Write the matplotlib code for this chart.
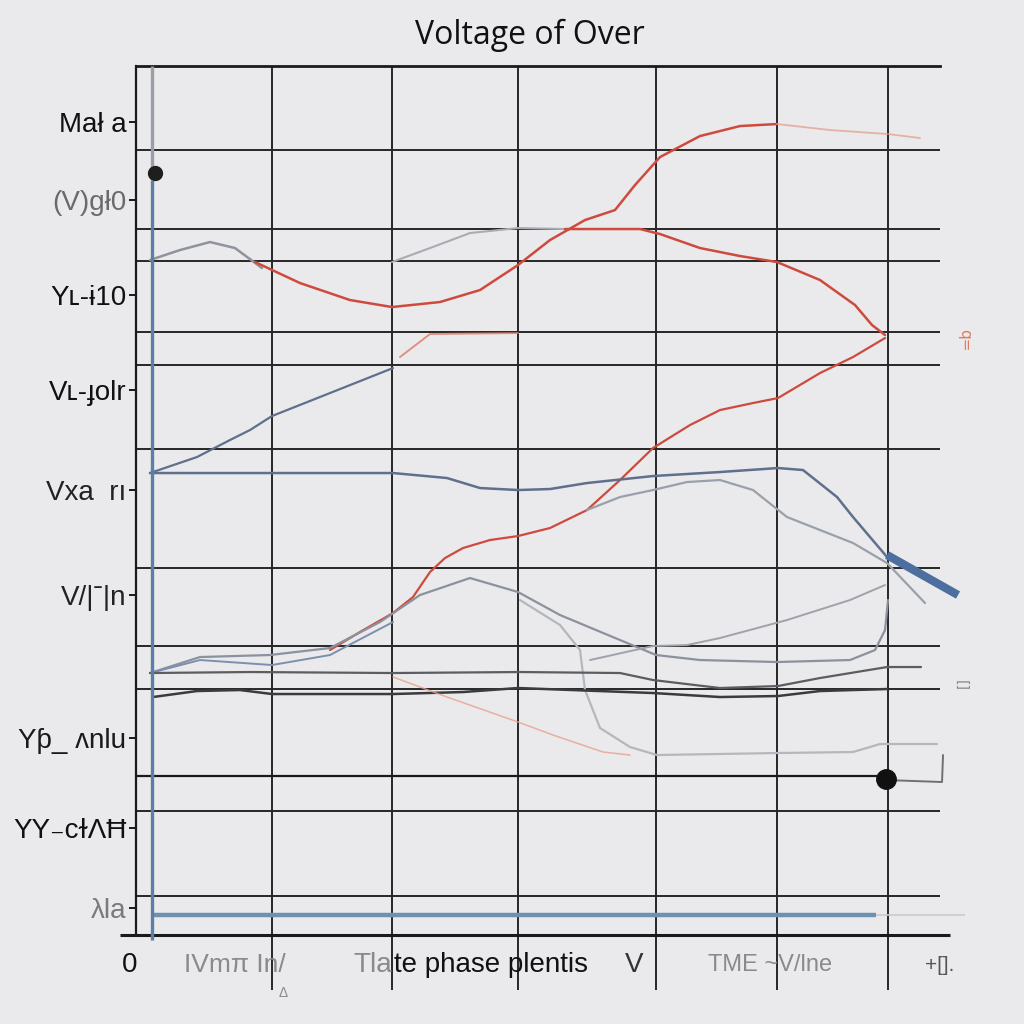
import matplotlib.pyplot as plt

# chart units: time along x, voltage along y
bg = '#eaeaec'
grid_c = '#262626'
red = '#cf4a3e'
gray = '#8e939c'
slate = '#5f6f8c'

# grid
grid_x = [1.36, 2.56, 3.82, 5.20, 6.41, 7.52]
grid_y = [7.85, 7.06, 6.74, 6.03, 5.70, 4.86, 3.67, 2.89, 2.46, 1.24, 0.39]

# y tick labels
ytick_v = [8.13, 7.35, 6.40, 5.45, 4.45, 3.40, 1.97, 1.07, 0.27]
ytick_lbl = ['Mał a', '(V)gł0', 'Yʟ-ɨ10', 'Vʟ-ɟolr', 'Vxa  rı', 'V/|ˉ|n',
             'Yƥ_ ʌnlu', 'YY₋cɫΛĦ', 'λla']
ytick_col = ['#111111', '#6a6a6a', '#111111', '#111111', '#222222', '#222222',
             '#1a1a1a', '#111111', '#7a7a7a']

# curves
a_gray_t = [0.14, 0.44, 0.74, 0.99, 1.26]
a_gray_v = [6.75, 6.85, 6.93, 6.87, 6.67]
a_red_t = [1.19, 1.64, 2.14, 2.56, 3.04, 3.44, 3.82, 4.14, 4.49, 4.79, 4.99, 5.24, 5.64, 6.04, 6.41]
a_red_v = [6.73, 6.52, 6.35, 6.28, 6.33, 6.45, 6.70, 6.95, 7.15, 7.25, 7.50, 7.78, 7.99, 8.09, 8.11]
a_tail_t = [6.41, 6.94, 7.52, 7.84]
a_tail_v = [8.11, 8.05, 8.01, 7.97]

b_gray_t = [2.56, 2.94, 3.34, 3.82, 4.29]
b_gray_v = [6.73, 6.87, 7.02, 7.07, 7.06]
b_red_t = [4.29, 5.04, 5.24, 5.64, 6.04, 6.41, 6.84, 7.19, 7.36, 7.49]
b_red_v = [7.06, 7.06, 7.01, 6.87, 6.79, 6.73, 6.55, 6.30, 6.10, 6.00]

short_t = [2.64, 2.94, 3.82]
short_v = [5.78, 6.01, 6.02]

c_t = [1.94, 2.24, 2.57, 2.77, 2.94, 3.09, 3.27, 3.54, 3.82, 4.14, 4.51, 4.84, 5.17,
       5.54, 5.84, 6.17, 6.42, 6.84, 7.17, 7.49]
c_v = [2.85, 3.03, 3.22, 3.38, 3.63, 3.77, 3.87, 3.95, 3.99, 4.07, 4.25, 4.55, 4.87,
       5.10, 5.25, 5.32, 5.37, 5.62, 5.78, 5.97]

d_t = [0.14, 0.61, 0.94, 1.14, 1.36, 1.94, 2.57]
d_v = [4.62, 4.78, 4.95, 5.05, 5.19, 5.42, 5.67]

e_t = [0.14, 1.64, 2.57, 3.11, 3.44, 3.82, 4.14, 4.51, 5.17, 5.84, 6.42, 6.67, 7.01, 7.17, 7.51]
e_v = [4.62, 4.62, 4.62, 4.57, 4.47, 4.45, 4.46, 4.52, 4.59, 4.63, 4.67, 4.65, 4.38, 4.18, 3.78]
bar_t = [7.51, 8.22]
bar_v = [3.80, 3.40]

m_t = [4.51, 4.84, 5.17, 5.51, 5.84, 6.17, 6.51, 7.17, 7.51, 7.89]
m_v = [4.25, 4.38, 4.45, 4.53, 4.55, 4.45, 4.18, 3.92, 3.72, 3.32]

f_t = [0.14, 0.64, 1.34, 1.94, 2.44, 2.84, 3.34, 3.82, 4.24, 4.84, 5.20, 5.64, 6.41,
       7.14, 7.39, 7.49, 7.52]
f_v = [2.62, 2.78, 2.80, 2.87, 3.13, 3.40, 3.57, 3.43, 3.20, 2.95, 2.80, 2.75, 2.73,
       2.75, 2.85, 3.05, 3.35]
f2_t = [0.14, 0.64, 1.36, 1.94, 2.57]
f2_v = [2.62, 2.75, 2.70, 2.80, 3.13]

g_t = [3.84, 4.24, 4.44, 4.49, 4.64, 4.94, 5.21, 6.41, 7.17, 7.44, 8.01]
g_v = [3.35, 3.10, 2.85, 2.45, 2.07, 1.88, 1.80, 1.82, 1.83, 1.91, 1.91]

h_t = [4.54, 5.17, 5.51, 5.84, 6.51, 7.14, 7.49]
h_v = [2.75, 2.89, 2.90, 2.97, 3.15, 3.35, 3.50]

i_t = [0.14, 1.14, 2.57, 3.84, 4.84, 5.17, 5.84, 6.42, 6.84, 7.51, 7.85]
i_v = [2.62, 2.63, 2.62, 2.63, 2.62, 2.55, 2.47, 2.49, 2.57, 2.68, 2.68]

j_t = [0.17, 0.61, 1.04, 1.36, 2.57, 3.27, 3.82, 5.17, 5.84, 6.42, 6.84, 7.51]
j_v = [2.38, 2.44, 2.45, 2.41, 2.41, 2.43, 2.47, 2.42, 2.38, 2.39, 2.44, 2.46]

k_t = [2.57, 3.11, 3.82, 4.17, 4.67, 4.94]
k_v = [2.58, 2.38, 2.13, 2.00, 1.83, 1.80]

dot_line_v = 1.59
dot_t, dot_v = 7.50, 1.56
bracket_t = [7.50, 8.06, 8.07]
bracket_v = [1.55, 1.53, 1.80]

base_v = 0.20  # blue baseline
axis_t = 0.16  # blue vertical marker
axis_dot_v = 7.62

fig = plt.figure(figsize=(10.24, 10.24), dpi=100)
fig.patch.set_facecolor(bg)
ax = fig.add_axes([0.1328, 0.0869, 0.7852, 0.8486])
ax.set_facecolor(bg)
ax.set_xlim(0, 8.04)
ax.set_ylim(0, 8.69)

for s in ['right', 'bottom']:
    ax.spines[s].set_visible(False)
ax.spines['left'].set_linewidth(1.6)
ax.spines['top'].set_linewidth(2.0)
ax.spines['left'].set_color('#1a1a1a')
ax.spines['top'].set_color('#1a1a1a')

# grid lines
ax.vlines(grid_x, -0.55, 8.69, color=grid_c, lw=1.4, clip_on=False, zorder=1)
ax.hlines(grid_y, 0, 8.04, color=grid_c, lw=1.4, clip_on=False, zorder=1)
ax.hlines(0, -0.16, 8.14, color='#1a1a1a', lw=2.2, clip_on=False, zorder=1)
ax.hlines(dot_line_v, 0, dot_t, color='#1a1a1a', lw=1.6, zorder=2)

# curves
kw = dict(clip_on=False, solid_capstyle='round', solid_joinstyle='round', zorder=3)
ax.plot(a_gray_t, a_gray_v, color=gray, lw=1.8, **kw)
ax.plot(a_red_t, a_red_v, color=red, lw=1.8, **kw)
ax.plot(a_tail_t, a_tail_v, color='#e39a80', lw=1.3, alpha=0.7, **kw)
ax.plot(b_gray_t, b_gray_v, color='#a8acb4', lw=1.5, **kw)
ax.plot(b_red_t, b_red_v, color=red, lw=1.8, **kw)
ax.plot(short_t, short_v, color='#dd7a66', lw=1.4, alpha=0.8, **kw)
ax.plot(c_t, c_v, color=red, lw=1.6, **kw)
ax.plot(d_t, d_v, color=slate, lw=1.6, **kw)
ax.plot(e_t, e_v, color=slate, lw=1.8, **kw)
ax.plot(bar_t, bar_v, color='#4d6f9f', lw=6, solid_capstyle='butt', clip_on=False, zorder=3)
ax.plot(m_t, m_v, color='#9aa0aa', lw=1.6, **kw)
ax.plot(f_t, f_v, color='#8b919d', lw=1.6, **kw)
ax.plot(f2_t, f2_v, color='#7d8fae', lw=1.4, **kw)
ax.plot(g_t, g_v, color='#b4b7bd', lw=1.6, **kw)
ax.plot(h_t, h_v, color='#9ea3ab', lw=1.4, **kw)
ax.plot(i_t, i_v, color='#5a5d63', lw=1.6, **kw)
ax.plot(j_t, j_v, color='#3a3b3f', lw=1.8, **kw)
ax.plot(k_t, k_v, color='#e8a08c', lw=1.1, alpha=0.8, **kw)
ax.plot(bracket_t, bracket_v, color='#707070', lw=1.4, **kw)
ax.plot(dot_t, dot_v, 'o', color='#111111', ms=14, clip_on=False, zorder=5)

# blue baseline and left marker
ax.hlines(base_v, axis_t, 7.40, color='#6c92b0', lw=3.2, zorder=2)
ax.hlines(base_v, 7.40, 8.29, color='#c8cacd', lw=1.2, clip_on=False, zorder=2)
ax.vlines(axis_t, -0.05, 7.55, color='#5c7fa8', lw=2.4, clip_on=False, zorder=4)
ax.vlines(axis_t, 7.55, 8.69, color='#9a9ea6', lw=2.4, zorder=4)
ax.plot(axis_t + 0.03, axis_dot_v, 'o', color='#1e1e1e', ms=10, zorder=5)

# y ticks
ax.set_yticks(ytick_v)
ax.set_yticklabels(ytick_lbl, fontsize=20, family=['Liberation Sans', 'DejaVu Sans'])
for lbl, c in zip(ax.get_yticklabels(), ytick_col):
    lbl.set_color(c)
ax.tick_params(axis='y', length=5, width=1.4, pad=2, color='#1a1a1a')
ax.set_xticks([])

# x axis text
fam = ['Liberation Sans', 'DejaVu Sans']
ax.text(-0.06, -0.30, '0', fontsize=20, color='#111111', ha='center', va='center', family=fam, clip_on=False)
ax.text(0.99, -0.30, 'IVmπ In/', fontsize=19, color='#8a8a8a', ha='center', va='center', family=fam, clip_on=False)
ax.text(1.47, -0.58, 'Δ', fontsize=10, color='#8a8a8a', ha='center', va='center', family=fam, clip_on=False)
ax.text(2.56, -0.30, 'Tla', fontsize=20, color='#8a8a8a', ha='right', va='center', family=fam, clip_on=False)
ax.text(2.58, -0.30, 'te phase plentis', fontsize=20, color='#111111', ha='left', va='center', family=fam, clip_on=False)
ax.text(4.98, -0.30, 'V', fontsize=20, color='#333333', ha='center', va='center', family=fam, clip_on=False)
ax.text(6.34, -0.30, 'TME ~V/lne', fontsize=17, color='#8a8a8a', ha='center', va='center', family=fam, clip_on=False)
ax.text(8.04, -0.30, '+[].', fontsize=15, color='#555555', ha='center', va='center', family=fam, clip_on=False)

# stray marks on the right
ax.text(8.29, 5.95, 'q=', fontsize=11, color='#e07a5a', rotation=-90, ha='center', va='center', clip_on=False)
ax.text(8.25, 2.50, '[]', fontsize=10, color='#8a8a8a', rotation=-90, ha='center', va='center', clip_on=False)

fig.text(0.5176, 0.965, 'Voltage of Over', fontsize=23, family='Open Sans',
         color='#111111', ha='center', va='center')

fig.savefig('out.png', dpi=100, facecolor=bg)
